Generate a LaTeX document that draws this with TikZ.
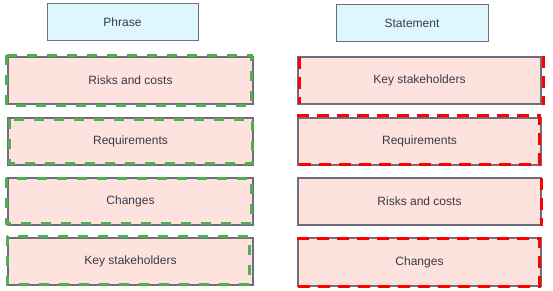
\documentclass[tikz,border=0pt]{standalone}
\usepackage{fontspec}
\setmainfont{Liberation Sans}
\usetikzlibrary{calc}
\definecolor{headfill}{RGB}{221,247,252}
\definecolor{itemfill}{RGB}{253,226,222}
\definecolor{rimgray}{RGB}{112,108,124}
\definecolor{txtgray}{RGB}{58,58,70}
\definecolor{dashgreen}{RGB}{76,175,80}
\definecolor{dashred}{RGB}{255,0,0}
\begin{document}
\begin{tikzpicture}[x=1pt,y=-1pt,
  head/.style={draw=rimgray,fill=headfill,line width=1pt,inner sep=0pt,minimum width=151pt,minimum height=37pt,text=txtgray,font=\fontsize{12}{14}\selectfont},
  item/.style={draw=rimgray,fill=itemfill,line width=1.2pt,inner sep=0pt,minimum width=245pt,minimum height=47pt,text=txtgray,font=\fontsize{12}{14}\selectfont},
  greendash/.style={draw=dashgreen,line width=2.4pt,dash pattern=on 10pt off 10pt},
  reddash/.style={draw=dashred,line width=2.4pt,dash pattern=on 12pt off 8pt}]
\useasboundingbox (0,0) rectangle (553,291);
% column heads
\node[head] (phrase) at (122.5,22.5) {Phrase};
\node[head,minimum width=152pt] (statement) at (412,23) {Statement};
% left column
\node[item] (lrisk) at (130.5,80.5) {Risks and costs};
\node[item] (lreq) at (130.5,141.5) {Requirements};
\node[item] (lchg) at (130.5,201.5) {Changes};
\node[item] (lkey) at (130.5,261.5) {Key stakeholders};
% right column
\node[item,minimum width=243pt] (rkey) at (419.5,80.5) {Key stakeholders};
\node[item,minimum width=243pt] (rreq) at (419.5,141.5) {Requirements};
\node[item,minimum width=243pt] (rrisk) at (419.5,201.5) {Risks and costs};
\node[item,minimum width=243pt,minimum height=48pt] (rchg) at (419.5,262) {Changes};
% green outlines
\draw[greendash] ($(lrisk.north west)+(-1,-1)$) rectangle ($(lrisk.south east)+(-2,1)$);
\draw[greendash] ($(lreq.north west)+(2,2)$) rectangle ($(lreq.south east)+(-1,-2)$);
\draw[greendash] ($(lchg.north west)+(-1,1)$) rectangle ($(lchg.south east)+(-2,-2)$);
\draw[greendash] ($(lkey.north west)+(0,-1)$) rectangle ($(lkey.south east)+(-4,-1)$);
% red outlines
\draw[reddash] ($(rkey.north west)+(2,1)$) -- ($(rkey.south west)+(2,-1)$);
\draw[reddash] ($(rkey.north east)+(2,0)$) -- ($(rkey.south east)+(2,0)$);
\draw[reddash] ($(rreq.north west)+(0,-2)$) -- ($(rreq.north east)+(-2,-2)$) -- ($(rreq.south east)+(-2,-1)$) -- ($(rreq.south west)+(2,-1)$);
\draw[reddash] ($(rrisk.north east)+(0,1)$) -- (rrisk.south east);
\draw[reddash] ($(rchg.north west)+(0,1)$) -- ($(rchg.north east)+(-2,1)$) -- ($(rchg.south east)+(-2,0)$) -- (rchg.south west);
\end{tikzpicture}
\end{document}
